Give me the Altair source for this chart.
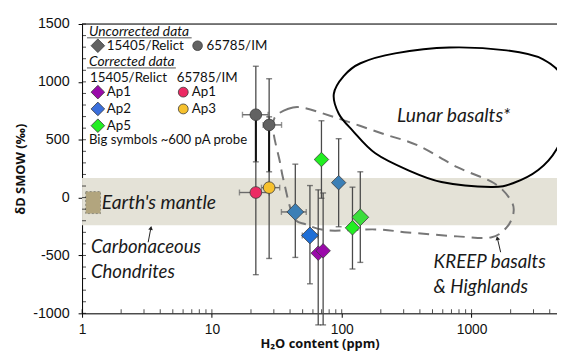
import altair as alt
import pandas as pd

# ---------------- data ----------------
# measured points: H2O (ppm), dD (permil), error bars
pt_kind = ["unc65785", "unc65785", "ap1_65785", "ap3_65785", "ap2s", "ap2",
           "ap1", "ap1", "ap5", "ap2s", "ap5", "ap5b"]
pt_sample = ["65785", "65785", "65785", "65785", "15405", "15405",
             "15405", "15405", "15405", "15405", "15405", "15405"]
pt_probe = ["c", "c", "c", "c", "big", "big", "small", "small", "small", "small", "small", "big"]
pt_h2o = [21.8, 27.6, 21.8, 27.6, 43.9, 56.9, 65.9, 71.9, 69.8, 94.7, 121, 139]
pt_dd = [716, 628, 44, 86, -124, -327, -480, -460, 329, 129, -261, -170]
dd_lo = [309, 223, -666, -526, -517, -745, -1100, -1100, -6, -252, -617, -560]
dd_hi = [1135, 1027, 754, 698, 289, 104, 67, 40, 664, 509, 90, 223]
h2o_lo = [17.2, 24.8, 16.3, 24.1, 34.3, 49.7]
h2o_hi = [27.1, 34.4, 27.6, 33.3, 53.3, 65.5]

# outlined fields
lunar_x = [86.9, 103.5, 139.4, 257.5, 674, 1862, 3557, 5233, 5420, 4467, 3261,
           2104, 1407, 586, 323, 181.4, 121.3, 94.9]
lunar_y = [896, 1050, 1161, 1246, 1297, 1272, 1195, 1007, 665, 409, 238,
           126, 92, 135, 238, 383, 579, 725]
kreep_x = [30.4, 38.8, 50.5, 90, 205, 385, 776, 1483, 1995, 2104, 1862, 1407,
           776, 323, 181.4, 79.6, 53.3, 42.4, 35.6, 33.2, 29.9]
kreep_y = [691, 768, 776, 691, 554, 451, 263, 126, -19, -130, -258, -344,
           -335, -301, -275, -284, -233, -164, 152, 323, 554]

band_dd = [170, -240]           # Earth's mantle band
box_h2o = [1.067, 1.387]        # carbonaceous chondrite box
box_dd = [52, -138]

x_major = [1, 10, 100, 1000]
x_minor = [2, 3, 4, 5, 6, 7, 8, 9, 20, 30, 40, 50, 60, 70, 80, 90,
           200, 300, 400, 500, 600, 700, 800, 900, 2000, 3000, 4000]
y_major = [-1000, -500, 0, 500, 1000, 1500]
y_minor = [-900, -800, -700, -600, -400, -300, -200, -100, 100, 200, 300, 400,
           600, 700, 800, 900, 1100, 1200, 1300, 1400]

# ---------------- styling ----------------
W, H = 481, 293
XS = alt.Scale(type="log", domain=[1, 4550], nice=False)
YS = alt.Scale(domain=[-1000, 1500], nice=False, zero=False)
XT = "H\u2082O content (ppm)"
YT = "\u03b4D SMOW (\u2030)"
XAX = alt.Axis(values=x_major, labelExpr="'' + datum.value", tickSize=4,
               labelPadding=5, titlePadding=2, grid=False,
               labelFont="Liberation Sans", labelFontSize=14,
               labelColor="#111", domainColor="#000", tickColor="#000",
               titleFont="Open Sans", titleFontSize=13, titleFontWeight="bold",
               titleColor="#111", labelFlush=False)
YAX = alt.Axis(values=y_major, labelExpr="'' + datum.value", tickSize=4,
               labelPadding=9, titlePadding=5, grid=False,
               labelFont="Liberation Sans", labelFontSize=14.5,
               labelColor="#111", domainColor="#000", tickColor="#000",
               titleFont="Open Sans", titleFontSize=13, titleFontWeight="bold",
               titleColor="#111", labelFlush=False)


def X(f):
    return alt.X(f, type="quantitative", scale=XS, axis=XAX, title=XT)


def Y(f):
    return alt.Y(f, type="quantitative", scale=YS, axis=YAX, title=YT)


kinds = ["unc65785", "ap1_65785", "ap3_65785", "ap2s", "ap2", "ap1", "ap5", "ap5b"]
kind_col = ["#626262", "#ec2a63", "#f6c12e", "#3b7fb6", "#1f6fd6", "#9a0aaa", "#22ee22", "#3bde3b"]

pts = pd.DataFrame({"kind": pt_kind, "sample": pt_sample, "probe": pt_probe,
                    "h2o": pt_h2o, "dd": pt_dd, "lo": dd_lo, "hi": dd_hi})
hbar = pd.DataFrame({"dd": pt_dd[:len(h2o_lo)], "xlo": h2o_lo, "xhi": h2o_hi})
vcaps = pd.DataFrame({"h2o": pt_h2o + pt_h2o, "v": dd_lo + dd_hi})
hcaps = pd.DataFrame({"dd": pt_dd[:len(h2o_lo)] * 2, "v": h2o_lo + h2o_hi})
# lower half of the uncorrected (grey) bars is drawn heavier in the reference
gl = pd.DataFrame({"h2o": pt_h2o[:2], "a": pt_dd[:2], "b": dd_lo[:2]})

lunar = pd.DataFrame({"h2o": lunar_x, "dd": lunar_y, "i": list(range(len(lunar_x)))})
kreep = pd.DataFrame({"h2o": kreep_x, "dd": kreep_y, "i": list(range(len(kreep_x)))})

ERR = "#4a4a4a"

band = alt.Chart(pd.DataFrame({"a": [band_dd[0]], "b": [band_dd[1]]})).mark_rect(
    color="#e4e2d7").encode(x=alt.value(0), x2=alt.value(W), y=Y("a"), y2="b")

box = alt.Chart(pd.DataFrame({"x1": [box_h2o[0]], "x2": [box_h2o[1]],
                              "y1": [box_dd[0]], "y2": [box_dd[1]]})).mark_rect(
    fill="#b2a57e", stroke="#8c8a7c", strokeWidth=1, strokeDash=[2, 2]).encode(
    x=X("x1"), x2="x2", y=Y("y1"), y2="y2")

kreep_line = alt.Chart(kreep).mark_line(
    interpolate="cardinal-closed", color="#777777", strokeWidth=2,
    strokeDash=[11, 7], clip=True).encode(x=X("h2o"), y=Y("dd"), order="i:O")

lunar_line = alt.Chart(lunar).mark_line(
    interpolate="cardinal-closed", color="#000000", strokeWidth=2,
    clip=True).encode(x=X("h2o"), y=Y("dd"), order="i:O")

top_rule = alt.Chart(pd.DataFrame({"v": [1500]})).mark_rule(
    color="#000", strokeWidth=1).encode(x=alt.value(0), x2=alt.value(W), y=Y("v"))

xt_min = alt.Chart(pd.DataFrame({"h2o": x_minor, "dd": [-1000] * len(x_minor)})).mark_tick(
    orient="vertical", size=4, thickness=1, color="#000", yOffset=-2).encode(x=X("h2o"), y=Y("dd"))
xt_maj = alt.Chart(pd.DataFrame({"h2o": x_major, "dd": [-1000] * len(x_major)})).mark_tick(
    orient="vertical", size=4, thickness=1, color="#000", yOffset=-2).encode(x=X("h2o"), y=Y("dd"))
yt_min = alt.Chart(pd.DataFrame({"dd": y_minor + y_major, "h2o": [1] * (len(y_minor) + len(y_major))})).mark_tick(
    orient="horizontal", size=4, thickness=1, color="#000", xOffset=2).encode(x=X("h2o"), y=Y("dd"))

vbars = alt.Chart(pts).mark_rule(color=ERR, strokeWidth=1.3).encode(
    x=X("h2o"), y=Y("lo"), y2="hi")
glow = alt.Chart(gl).mark_rule(color="#111", strokeWidth=2).encode(
    x=X("h2o"), y=Y("a"), y2="b")
vcap = alt.Chart(vcaps).mark_tick(orient="horizontal", size=6, thickness=1.4,
                                  color=ERR).encode(x=X("h2o"), y=Y("v"))
hbars = alt.Chart(hbar).mark_rule(color="#6a6a6a", strokeWidth=1.4).encode(
    x=X("xlo"), x2="xhi", y=Y("dd"))
hcap = alt.Chart(hcaps).mark_tick(orient="vertical", size=6, thickness=1.4,
                                  color="#6a6a6a").encode(x=X("v"), y=Y("dd"))

points = alt.Chart(pts).mark_point(filled=True, opacity=1, stroke="#3a3a3a",
                                   strokeWidth=0.8).encode(
    x=X("h2o"), y=Y("dd"),
    color=alt.Color("kind:N", scale=alt.Scale(domain=kinds, range=kind_col), legend=None),
    shape=alt.Shape("sample:N", scale=alt.Scale(domain=["15405", "65785"],
                                                 range=["diamond", "circle"]), legend=None),
    size=alt.Size("probe:N", scale=alt.Scale(domain=["big", "small", "c"],
                                              range=[290, 140, 95]), legend=None),
)


def note(txt, x, y, size=19):
    return alt.Chart(pd.DataFrame({"h2o": [x], "dd": [y], "t": [txt]})).mark_text(
        align="left", baseline="middle", font="Lato", fontStyle="italic",
        fontSize=size, color="#1a1a1a").encode(x=X("h2o"), y=Y("dd"), text="t:N")


notes = [
    note("Earth's mantle", 1.42, -44, 19.5),
    note("Carbonaceous", 1.17, -429, 18.8),
    note("Chondrites", 1.17, -643, 18.8),
    note("Lunar basalts*", 267, 708, 19.5),
    note("KREEP basalts", 510, -557, 19),
    note("& Highlands", 510, -771, 19),
]


def arrow(x1, y1, x2, y2, ang):
    d = pd.DataFrame({"a": [x1], "b": [y1], "c": [x2], "d": [y2]})
    line = alt.Chart(d).mark_rule(color="#222", strokeWidth=1).encode(
        x=X("a"), y=Y("b"), x2="c", y2="d")
    head = alt.Chart(d).mark_point(shape="triangle-up", filled=True, size=22,
                                   color="#222", angle=ang, opacity=1).encode(
        x=X("c"), y=Y("d"))
    return line + head


arrows = [arrow(3.23, -386, 3.39, -262, 11), arrow(1675, -472, 1580, -350, 346)]

# ---------------- custom legend (top-left, in plot pixels) ----------------
LEG = [{}]


def ltext(txt, x, y, size=13.5, italic=False):
    kw = {"fontStyle": "italic"} if italic else {}
    return alt.Chart(alt.Data(values=LEG)).mark_text(
        text=txt, align="left", baseline="middle", font="Lato", fontSize=size,
        color="#111", **kw).encode(x=alt.value(x), y=alt.value(y))


def lsym(shape, color, x, y, size):
    return alt.Chart(alt.Data(values=LEG)).mark_point(
        shape=shape, filled=True, fill=color, stroke="#3a3a3a", strokeWidth=0.8,
        size=size, opacity=1).encode(x=alt.value(x), y=alt.value(y))


def luline(x1, x2, y):
    return alt.Chart(alt.Data(values=LEG)).mark_rule(color="#555", strokeWidth=1).encode(
        x=alt.value(x1), x2=alt.value(x2), y=alt.value(y))


legend = [
    ltext("Uncorrected data", 7, 8, 14, True), luline(5, 111, 14),
    lsym("diamond", "#626262", 16, 22, 190), ltext("15405/Relict", 25, 22),
    lsym("circle", "#626262", 117, 22, 95), ltext("65785/IM", 126, 22),
    ltext("Corrected data", 7, 38.7, 14, True), luline(5, 95, 44.5),
    ltext("15405/Relict", 8, 54.7), ltext("65785/IM", 96, 54.7),
    lsym("diamond", "#9a0aaa", 16, 69, 190), ltext("Ap1", 25, 69),
    lsym("circle", "#ec2a63", 102.5, 69, 100), ltext("Ap1", 111, 69),
    lsym("diamond", "#3a6fdc", 16, 86, 190), ltext("Ap2", 25, 86),
    lsym("circle", "#f6c12e", 102.5, 86, 100), ltext("Ap3", 111, 86),
    lsym("diamond", "#22ee22", 16, 103, 190), ltext("Ap5", 25, 103),
    ltext("Big symbols ~600 pA probe", 7, 117.5, 13.3),
]

chart = alt.layer(
    band, box, kreep_line, lunar_line, top_rule, xt_min, xt_maj, yt_min,
    hbars, hcap, vbars, glow, vcap, points, *notes, *arrows, *legend
).properties(
    width=W, height=H,
    autosize=alt.AutoSizeParams(type="none"),
    padding={"left": 75, "top": 14, "right": 0, "bottom": 40},
).configure_view(stroke=None).configure(background="white")

chart.save("out.html", embed_options={"renderer": "svg", "actions": False})
